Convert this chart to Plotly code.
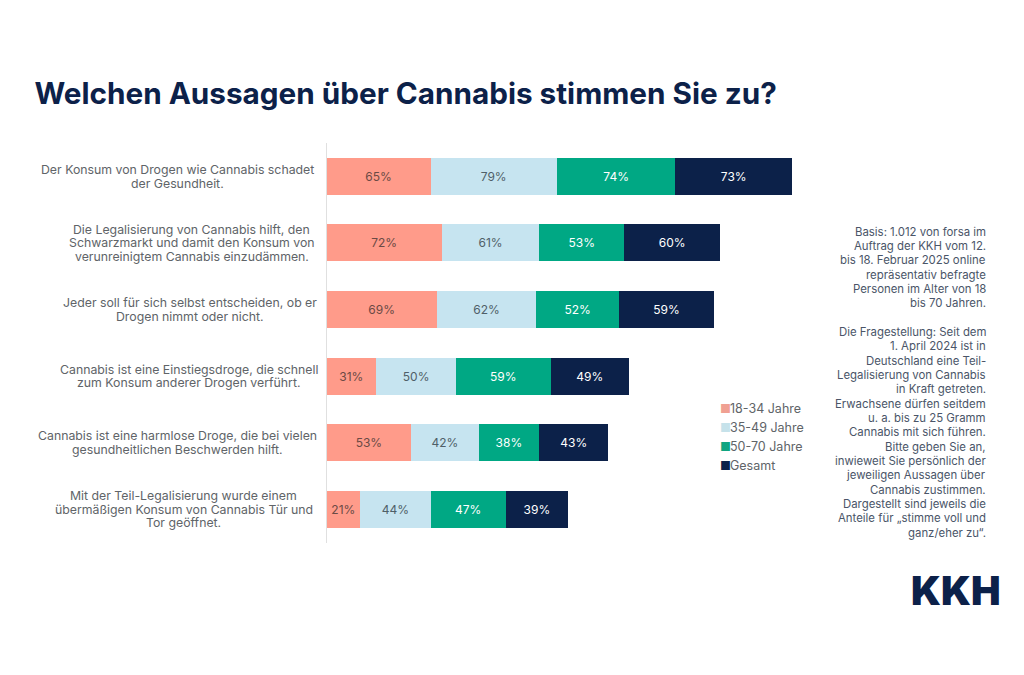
import plotly.graph_objects as go

W, H = 1024, 675
FONT = "Inter"
GREY = "#606468"
NAVY = "#0c2149"

categories = [
    "Der Konsum von Drogen wie Cannabis schadet<br>der Gesundheit.",
    "Die Legalisierung von Cannabis hilft, den<br>Schwarzmarkt und damit den Konsum von<br>verunreinigtem Cannabis einzudämmen.",
    "Jeder soll für sich selbst entscheiden, ob er<br>Drogen nimmt oder nicht.",
    "Cannabis ist eine Einstiegsdroge, die schnell<br>zum Konsum anderer Drogen verführt.",
    "Cannabis ist eine harmlose Droge, die bei vielen<br>gesundheitlichen Beschwerden hilft.",
    "Mit der Teil-Legalisierung wurde einem<br>übermäßigen Konsum von Cannabis Tür und<br>Tor geöffnet.",
]
label_centers = [177.5, 191.5, 190, 188.5, 177, 183.5]
series_names = ["18-34 Jahre", "35-49 Jahre", "50-70 Jahre", "Gesamt"]
v_18_34 = [65, 72, 69, 31, 53, 21]
v_35_49 = [79, 61, 62, 50, 42, 44]
v_50_70 = [74, 53, 52, 59, 38, 47]
v_gesamt = [73, 60, 59, 49, 43, 39]
series_values = [v_18_34, v_35_49, v_50_70, v_gesamt]
colors = ["#ff9b8a", "#c6e4f0", "#00a884", NAVY]
swatch_colors = ["#f0a092", "#c6e2ea", "#10a580", NAVY]
text_colors = ["#6b4a45", "#4f5f68", "#ffffff", "#ffffff"]

title = "Welchen Aussagen über Cannabis stimmen Sie zu?"
note_lines = [
    "Basis: 1.012 von forsa im", "Auftrag der KKH vom 12.", "bis 18. Februar 2025 online",
    "repräsentativ befragte", "Personen im Alter von 18", "bis 70 Jahren.", "",
    "Die Fragestellung: Seit dem", "1. April 2024 ist in", "Deutschland eine Teil-",
    "Legalisierung von Cannabis", "in Kraft getreten.", "Erwachsene dürfen seitdem",
    "u. a. bis zu 25 Gramm", "Cannabis mit sich führen.", "Bitte geben Sie an,",
    "inwieweit Sie persönlich der", "jeweiligen Aussagen über", "Cannabis zustimmen.",
    "Dargestellt sind jeweils die", "Anteile für „stimme voll und", "ganz/eher zu“.",
]

fig = go.Figure()
for name, vals, c, tc in zip(series_names, series_values, colors, text_colors):
    fig.add_trace(go.Bar(
        y=categories, x=vals, name=name, orientation="h",
        marker=dict(color=c, line=dict(width=0)),
        text=[f"{v}%" for v in vals], textposition="inside", insidetextanchor="middle",
        textangle=0, constraintext="none",
        textfont=dict(family=FONT, size=12, color=tc),
        showlegend=False, hoverinfo="skip",
    ))

ann = []
# category labels, one annotation per line for the tight leading
LABEL_LEAD = 13.6
for cat, cx in zip(categories, label_centers):
    lines = cat.split("<br>")
    for i, line in enumerate(lines):
        ann.append(dict(x=cx / W, y=cat, xref="paper", yref="y", xanchor="center", yanchor="middle",
                        yshift=-(i - (len(lines) - 1) / 2) * LABEL_LEAD, text=line, showarrow=False,
                        font=dict(family=FONT, size=12.3, color=GREY)))
# legend
for i, (name, c) in enumerate(zip(series_names, swatch_colors)):
    py = 408 + i * 19.2
    ann.append(dict(x=718 / W, y=1 - py / H, xref="paper", yref="paper", xanchor="left",
                    yanchor="middle", showarrow=False, text="■",
                    font=dict(family=FONT, size=12, color=c)))
    ann.append(dict(x=728 / W, y=1 - py / H, xref="paper", yref="paper", xanchor="left",
                    yanchor="middle", showarrow=False, text=name,
                    font=dict(family=FONT, size=12.5, color=GREY)))
# note, right aligned
NOTE_LEAD = 14.33
for i, line in enumerate(note_lines):
    if line:
        ann.append(dict(x=988 / W, y=1 - (231.7 + i * NOTE_LEAD) / H, xref="paper", yref="paper",
                        xanchor="right", yanchor="middle", showarrow=False, text=line,
                        font=dict(family=FONT, size=11.4, color="#4a5568")))
# logo
ann.append(dict(x=1003 / W, y=1 - 590.5 / H, xref="paper", yref="paper", xanchor="right",
                yanchor="middle", showarrow=False, text="KKH",
                font=dict(family=FONT, size=39.5, color=NAVY, weight=900)))

fig.update_layout(
    width=W, height=H, margin=dict(l=0, r=0, t=0, b=0),
    paper_bgcolor="white", plot_bgcolor="white",
    barmode="stack", bargap=0.445,
    title=dict(text=f"<b>{title}</b>", x=34.5 / W, xanchor="left", y=1 - 94 / H, yanchor="middle",
               font=dict(family=FONT, size=29.7, color=NAVY)),
    xaxis=dict(domain=[326.5 / W, 806.5 / W], range=[0, 300], visible=False),
    yaxis=dict(domain=[1 - 542.6 / H, 1 - 143 / H], autorange="reversed", type="category",
               showticklabels=False, ticks="", showgrid=False, zeroline=False,
               showline=True, linecolor="#e0e0e0", linewidth=1),
    annotations=ann,
)
fig.write_html("out.html", config={"displayModeBar": False},
               post_script="document.body.style.margin='0';")
